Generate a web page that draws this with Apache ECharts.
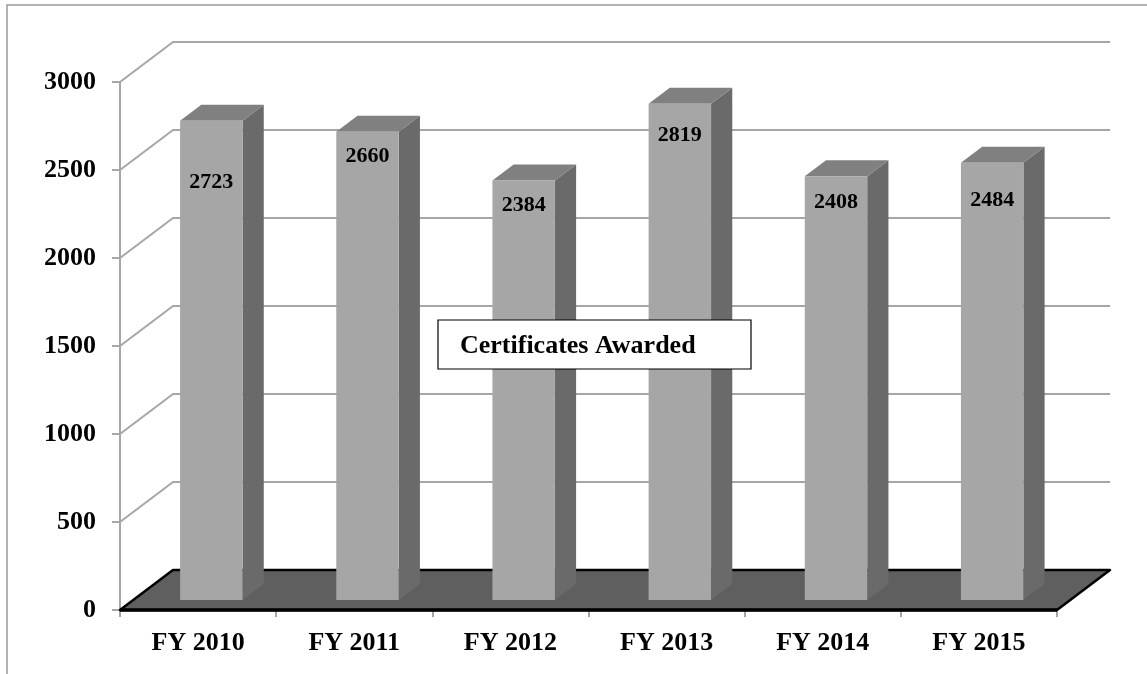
<!DOCTYPE html>
<html>
<head>
<meta charset="utf-8">
<script src="https://cdn.jsdelivr.net/npm/echarts@6/dist/echarts.min.js"></script>
<style>
  html, body { margin: 0; padding: 0; background: #fff; }
  #chart { width: 1147px; height: 674px; }
</style>
</head>
<body>
<div id="chart"></div>
<script>
// data
const categories = ['FY 2010', 'FY 2011', 'FY 2012', 'FY 2013', 'FY 2014', 'FY 2015'];
const certificates = [2723, 2660, 2384, 2819, 2408, 2484];
const yTicks = [0, 500, 1000, 1500, 2000, 2500, 3000];

// fake 3d projection: back wall offset in px
const DX = 53, DY = -40;
const FRONT = 0.25, DEPTH = 0.4;     // bar position inside the depth
const BAR_W = 0.4;                   // share of a category
// how far below the bar top each value label sits (px)
const labelDrop = [62, 24, 25, 31, 26, 37];

const font = 'Liberation Serif, Times New Roman, serif';
const chart = echarts.init(document.getElementById('chart'));

// back wall + side wall grid lines
function renderWall(params, api) {
  const cs = params.coordSys;
  const y = api.coord([0, api.value(0)])[1];
  return {
    type: 'polyline',
    shape: { points: [[cs.x, y], [cs.x + DX, y + DY], [cs.x + cs.width + DX, y + DY]] },
    style: { stroke: '#a6a6a6', lineWidth: 2, fill: null }
  };
}

// floor
function renderFloor(params, api) {
  const cs = params.coordSys;
  const y = api.coord([0, 0])[1];
  const l = cs.x, r = cs.x + cs.width;
  return {
    type: 'group',
    children: [{
      type: 'polygon',
      shape: { points: [[l, y], [r, y], [r + DX, y + DY], [l + DX, y + DY]] },
      style: { fill: '#5f5f5f', stroke: '#000', lineWidth: 2.5, lineJoin: 'round' }
    }, {
      type: 'line',
      shape: { x1: l, y1: y, x2: r, y2: y },
      style: { stroke: '#000', lineWidth: 3.5 }
    }]
  };
}

function renderBar(params, api) {
  const i = api.value(0);
  const base = api.coord([i, 0]);
  const top = api.coord([i, api.value(1)]);
  const w = api.size([1, 0])[0] * BAR_W;
  const fx = FRONT * DX, fy = FRONT * DY;
  const bx = DEPTH * DX, by = DEPTH * DY;
  const x1 = base[0] - w / 2 + fx, x2 = x1 + w;
  const yb = base[1] + fy, yt = top[1] + fy;
  return {
    type: 'group',
    children: [{
      type: 'polygon',
      shape: { points: [[x2, yt], [x2 + bx, yt + by], [x2 + bx, yb + by], [x2, yb]] },
      style: { fill: '#6a6a6a' }
    }, {
      type: 'polygon',
      shape: { points: [[x1, yt], [x2, yt], [x2 + bx, yt + by], [x1 + bx, yt + by]] },
      style: { fill: '#808080' }
    }, {
      type: 'rect',
      shape: { x: x1, y: yt, width: w, height: yb - yt },
      style: { fill: '#a6a6a6' }
    }, {
      type: 'text',
      x: x1 + w / 2,
      y: yt + labelDrop[params.dataIndex],
      style: {
        text: String(api.value(1)),
        align: 'center', verticalAlign: 'middle',
        font: 'bold 22px ' + font, fill: '#000'
      }
    }]
  };
}

const option = {
  animation: false,
  grid: { left: 120, right: 90, top: 82, bottom: 64 },
  xAxis: {
    type: 'category',
    data: categories,
    axisLine: { show: false },
    axisTick: { show: true, length: 7, lineStyle: { color: '#a6a6a6', width: 2 } },
    axisLabel: { margin: 20, color: '#000', fontFamily: font, fontWeight: 'bold', fontSize: 26 }
  },
  yAxis: {
    type: 'value',
    min: 0, max: 3000, interval: 500,
    axisLine: { show: true, lineStyle: { color: '#a6a6a6', width: 2 } },
    axisTick: { show: true, length: 8, lineStyle: { color: '#a6a6a6', width: 2 } },
    axisLabel: {
      margin: 24, color: '#000', fontFamily: font, fontWeight: 'bold', fontSize: 26,
      formatter: v => String(v)
    },
    splitLine: { show: false }
  },
  series: [{
    type: 'custom', renderItem: renderWall, z: 1, silent: true,
    data: yTicks.map(v => [v])
  }, {
    type: 'custom', renderItem: renderFloor, z: 2, silent: true,
    data: [[0]]
  }, {
    type: 'custom', name: 'Certificates Awarded', renderItem: renderBar, z: 3,
    data: certificates.map((v, i) => [i, v])
  }],
  graphic: [{
    type: 'rect', z: 0,
    shape: { x: 7, y: 5, width: 1300, height: 900 },
    style: { fill: null, stroke: '#9a9a9a', lineWidth: 1.5 }
  }, {
    type: 'rect', z: 100, zlevel: 1,
    shape: { x: 438, y: 320, width: 313, height: 49 },
    style: { fill: '#fff', stroke: '#000', lineWidth: 1.2 }
  }, {
    type: 'text', z: 101, zlevel: 1, x: 460, y: 346,
    style: {
      text: 'Certificates Awarded', verticalAlign: 'middle',
      font: 'bold 26px ' + font, fill: '#000'
    }
  }]
};

chart.setOption(option);
</script>
</body>
</html>
